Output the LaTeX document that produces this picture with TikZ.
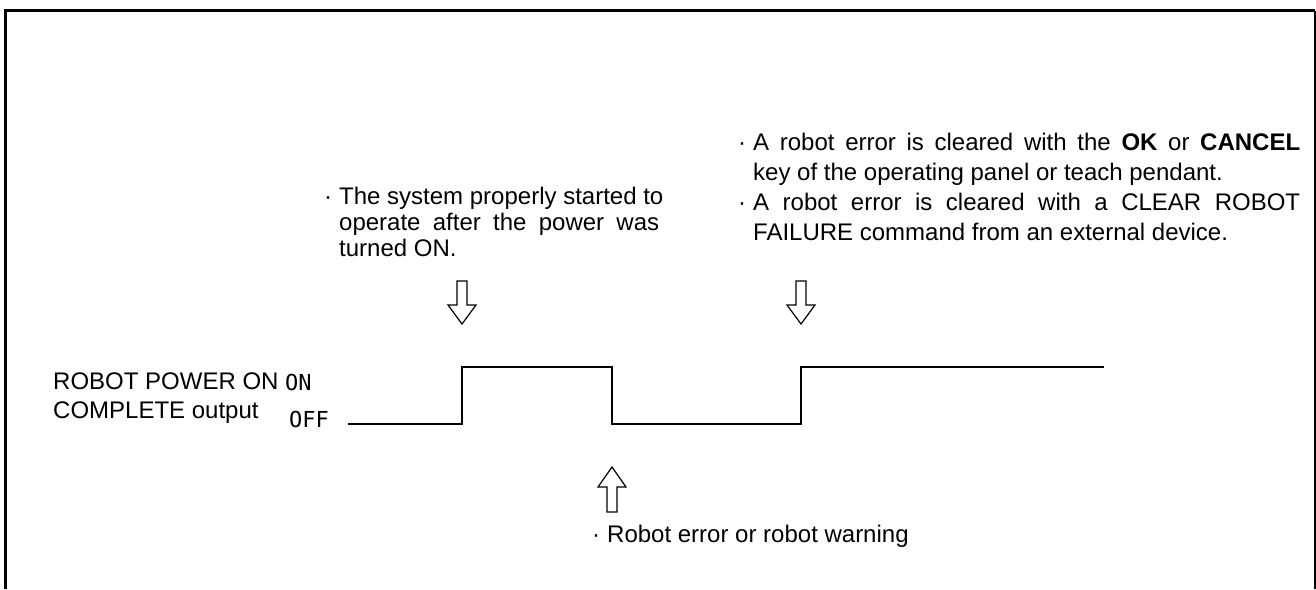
\documentclass[tikz,border=0pt]{standalone}
\usepackage{fontspec}
\setmainfont{Liberation Sans}
\newfontfamily\levelfont{DejaVu Sans Mono}
\usetikzlibrary{positioning}
\tikzset{
	>=latex,
	frame/.style={line width=3pt},
	signal/.style={line width=1.4pt},
	hollow/.style={draw, line width=1.2pt, fill=white, line join=miter},
	note/.style={inner sep=0pt, align=left, font=\fontsize{24}{28}\selectfont},
	level/.style={inner sep=0pt, anchor=base west, font=\levelfont\fontsize{22}{22}\selectfont},
	hollowdown/.pic={\draw[hollow] (0,0) -- ++(-14,-19) -- ++(9,0) -- ++(0,-24) -- ++(10,0) -- ++(0,24) -- ++(9,0) -- cycle;},
	hollowup/.pic={\draw[hollow] (0,0) -- ++(-14,20) -- ++(9,0) -- ++(0,25) -- ++(10,0) -- ++(0,-25) -- ++(9,0) -- cycle;}
}

\begin{document}
\begin{tikzpicture}[x=1pt, y=-1pt]
	\useasboundingbox (0,0) rectangle (1316,589);
	
	% frame (open at the bottom)
	\draw[frame] (5.5,589) -- (5.5,10.5) -- (1315,10.5);
	\draw[line width=1.2pt] (1315,10.5) -- (1315,589);
	
	% timing signal
	\coordinate (s0) at (348,424);
	\coordinate (r1) at (462,424);
	\coordinate (f1) at (612,367);
	\coordinate (r2) at (801,424);
	\coordinate (s1) at (1104,367);
	\coordinate (f1low) at (f1 |- r1);
	\draw[signal] (s0) -- (r1) -- (r1 |- f1) -- (f1) -- (f1low) -- (r2) -- (r2 |- s1) -- (s1);
	
	% signal name and levels
	\node[note, anchor=north west, font=\fontsize{24}{29}\selectfont] (signame) at (53,373)
	{ROBOT POWER ON\\COMPLETE output};
	\node[level] (onlevel) at (285,390) {ON};
	\node[level] (offlevel) at (289,427) {OFF};
	
	% event arrows
	\pic at ([yshift=100pt]r1) {hollowdown};
	\pic at ([yshift=100pt]r2) {hollowdown};
	\pic at ([yshift=-43pt]f1low) {hollowup};
	
	% notes
	\node[note, anchor=north west, font=\fontsize{24}{26}\selectfont] (started) at (339,187)
	{\llap{·\hspace{7pt}}The system properly started to\\
		\makebox[320pt][s]{operate after the power was}\\
		turned ON.};
	\node[note, anchor=north west, font=\fontsize{24}{30}\selectfont] (cleared) at (753,133)
	{\llap{·\hspace{7pt}}\makebox[547pt][s]{A robot error is cleared with the \textbf{OK} or \textbf{CANCEL}}\\
		key of the operating panel or teach pendant.\\
		\llap{·\hspace{7pt}}\makebox[547pt][s]{A robot error is cleared with a CLEAR ROBOT}\\
		FAILURE command from an external device.};
	\node[note, anchor=base west] (errnote) at (607,542)
	{\llap{·\hspace{7pt}}Robot error or robot warning};
	
\end{tikzpicture}
\end{document}
